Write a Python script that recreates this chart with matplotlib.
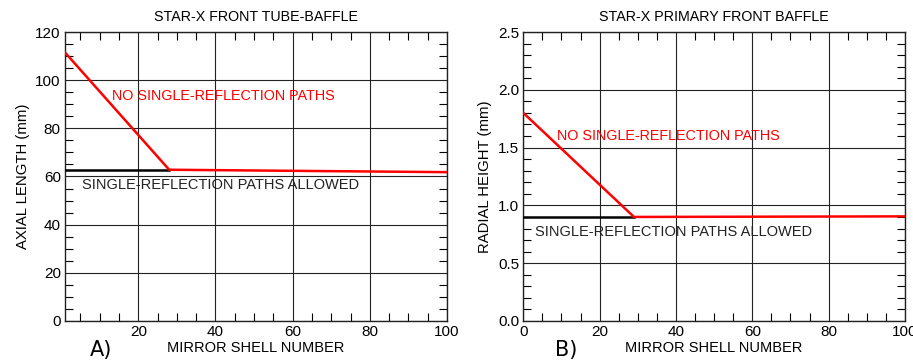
import numpy as np
import matplotlib.pyplot as plt
from matplotlib.ticker import MultipleLocator

plt.rcParams['font.family'] = ['Liberation Sans', 'DejaVu Sans']

# DATA

# panel A: front tube-baffle axial length
shell_a = [1, 28, 100]
red_a = [111.5, 62.8, 61.8]
black_shell_a = [1, 28]
black_a = [62.8, 62.8]

# panel B: primary front baffle radial height
shell_b = [0, 29, 100]
red_b = [1.80, 0.90, 0.905]
black_shell_b = [0, 29]
black_b = [0.90, 0.90]

titles = ['STAR-X FRONT TUBE-BAFFLE', 'STAR-X PRIMARY FRONT BAFFLE']
ylabels = ['AXIAL LENGTH (mm)', 'RADIAL HEIGHT (mm)']
panel_tags = ['A)', 'B)']

# FIGURE

fig = plt.figure(figsize=(9.13, 3.62), dpi=100)
axA = fig.add_axes([0.0712, 0.1133, 0.4184, 0.7983])
axB = fig.add_axes([0.5732, 0.1133, 0.4180, 0.7983])


def style(ax, xmin, ymax, ymaj, ymin):
    ax.set_xlim(xmin, 100)
    ax.set_ylim(0, ymax)
    ax.xaxis.set_major_locator(MultipleLocator(20))
    ax.xaxis.set_minor_locator(MultipleLocator(5))
    ax.yaxis.set_major_locator(MultipleLocator(ymaj))
    ax.yaxis.set_minor_locator(MultipleLocator(ymin))
    ax.tick_params(which='both', direction='in', top=True, right=True,
                   labelsize=11, pad=3)
    ax.tick_params(which='major', length=0)
    ax.tick_params(which='minor', length=6, width=0.8)
    ax.grid(True, which='major', color='#222222', lw=0.8)
    for s in ax.spines.values():
        s.set_linewidth(1.0)
        s.set_color('#222222')
    ax.set_xlabel('MIRROR SHELL NUMBER', fontsize=10.5, labelpad=1)


# panel A
style(axA, 1, 120, 20, 5)
axA.set_xticks([20, 40, 60, 80, 100])
axA.plot(black_shell_a, black_a, color='black', lw=1.8, zorder=3)
axA.plot(shell_a, red_a, color='red', lw=1.8, zorder=4)
axA.text(13.3, 93.6, 'NO SINGLE-REFLECTION PATHS', color='red',
         fontsize=10.4, va='center')
axA.text(5.4, 56.5, 'SINGLE-REFLECTION PATHS ALLOWED', color='#222222',
         fontsize=10.5, va='center')

# panel B
style(axB, 0, 2.5, 0.5, 0.1)
axB.yaxis.set_major_formatter(plt.FormatStrFormatter('%.1f'))
axB.plot(black_shell_b, black_b, color='black', lw=1.8, zorder=3)
axB.plot(shell_b, red_b, color='red', lw=1.8, zorder=4)
axB.text(8.7, 1.60, 'NO SINGLE-REFLECTION PATHS', color='red',
         fontsize=10.4, va='center')
axB.text(3.1, 0.77, 'SINGLE-REFLECTION PATHS ALLOWED', color='#222222',
         fontsize=10.5, va='center')

for ax, t, yl in zip([axA, axB], titles, ylabels):
    ax.set_title(t, fontsize=10.3, pad=8)
    ax.set_ylabel(yl, fontsize=10.7, labelpad=4)

fig.text(90 / 913, 1 - 350 / 362, panel_tags[0], fontsize=15,
         family='DejaVu Sans', va='center')
fig.text(555 / 913, 1 - 350 / 362, panel_tags[1], fontsize=15,
         family='DejaVu Sans', va='center')

fig.savefig('out.png', dpi=100)
